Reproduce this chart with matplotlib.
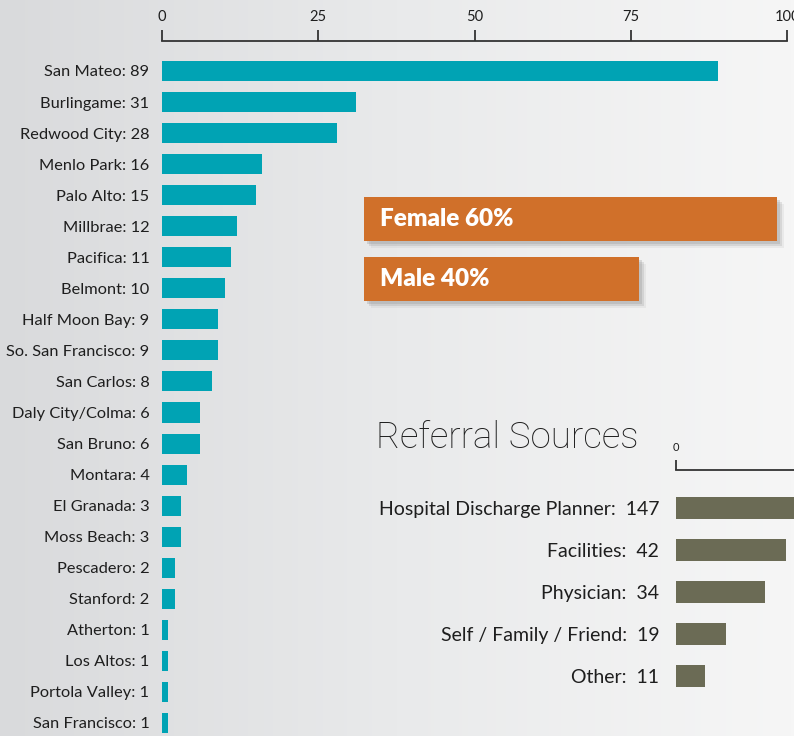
import numpy as np
import matplotlib
matplotlib.use("Agg")
import matplotlib.pyplot as plt
import matplotlib.patheffects as pe

# city counts
cities = ['San Mateo', 'Burlingame', 'Redwood City', 'Menlo Park', 'Palo Alto',
          'Millbrae', 'Pacifica', 'Belmont', 'Half Moon Bay', 'So. San Francisco',
          'San Carlos', 'Daly City/Colma', 'San Bruno', 'Montara', 'El Granada',
          'Moss Beach', 'Pescadero', 'Stanford', 'Atherton', 'Los Altos',
          'Portola Valley', 'San Francisco']
city_counts = [89, 31, 28, 16, 15, 12, 11, 10, 9, 9, 8, 6, 6, 4, 3, 3, 2, 2, 1, 1, 1, 1]
city_ticks = [0, 25, 50, 75, 100]

# gender split
genders = ['Female', 'Male']
gender_pct = [60, 40]

# referral sources
sources = ['Hospital Discharge Planner', 'Facilities', 'Physician',
           'Self / Family / Friend', 'Other']
source_counts = [147, 42, 34, 19, 11]

teal = '#00a3b4'
orange = '#d0702a'
olive = '#6b6b55'
txt = '#1e1e1e'

plt.rcParams['font.family'] = ['Lato', 'DejaVu Sans']

W, H = 794, 736
fig = plt.figure(figsize=(W / 100, H / 100), dpi=100)

# background gradient
bg = fig.add_axes([0, 0, 1, 1])
grad = np.linspace(0, 1, 256)[None, :]
cmap = matplotlib.colors.LinearSegmentedColormap.from_list('bg', ['#d9dadc', '#e9eaeb', '#f6f6f6'])
bg.imshow(grad, aspect='auto', cmap=cmap, extent=[0, 1, 0, 1])
bg.axis('off')

# --- cities ---
ax = fig.add_axes([162 / W, 0, 625 / W, (H - 41) / H])
ax.set_facecolor('none')
y = np.arange(len(cities))
ax.barh(y, city_counts, height=0.645, color=teal)
ax.set_xlim(0, 100)
ax.set_ylim(21.42, -0.966)
ax.xaxis.tick_top()
ax.set_xticks(city_ticks)
ax.tick_params(axis='x', direction='out', length=8, width=1.3, color='#333333',
               labelsize=10.5, labelcolor=txt, pad=4)
ax.set_yticks(y, ['{}: {}'.format(c, n) for c, n in zip(cities, city_counts)])
ax.tick_params(axis='y', length=0, pad=9, labelsize=11.8, labelcolor=txt)
for s in ['left', 'right', 'bottom']:
    ax.spines[s].set_visible(False)
ax.spines['top'].set_linewidth(1.3)
ax.spines['top'].set_color('#333333')

# --- gender ---
gx = fig.add_axes([364 / W, 1 - 310 / H, 430 / W, 120 / H])
gx.set_facecolor('none')
shadow = [pe.SimplePatchShadow(offset=(2, -2), shadow_rgbFace='#888888', alpha=0.25),
          pe.SimplePatchShadow(offset=(3.5, -3.5), shadow_rgbFace='#888888', alpha=0.2),
          pe.SimplePatchShadow(offset=(5, -5), shadow_rgbFace='#999999', alpha=0.12),
          pe.Normal()]
gb = gx.barh([0, 1], gender_pct, height=0.733, color=orange)
for b in gb:
    b.set_path_effects(shadow)
for i, (g, p) in enumerate(zip(genders, gender_pct)):
    gx.text(2.3, i, '{} {}%'.format(g, p), color='white', fontsize=17.5,
            fontweight='heavy', va='center', ha='left')
gx.set_xlim(0, 430 / 6.883)
gx.set_ylim(1.517, -0.483)
gx.axis('off')

# --- referral sources ---
fig.text(376 / W, 1 - 438 / H, 'Referral Sources', fontsize=26.5, family='Roboto',
         fontweight='light', color=txt, va='center', ha='left')
rx = fig.add_axes([676 / W, 0, 118 / W, (H - 470) / H])
rx.set_facecolor('none')
ry = np.arange(len(sources))
rx.barh(ry, source_counts, height=0.52, color=olive)
rx.set_xlim(0, 118 / 2.63)
rx.set_ylim(5.43, -0.905)
rx.xaxis.tick_top()
rx.set_xticks([0])
rx.tick_params(axis='x', direction='out', length=7, width=1.3, color='#333333',
               labelsize=8, labelcolor=txt, pad=5)
rx.set_yticks(ry, ['{}:  {}'.format(s, n) for s, n in zip(sources, source_counts)])
rx.tick_params(axis='y', length=0, pad=12, labelsize=14, labelcolor=txt)
for s in ['left', 'right', 'bottom']:
    rx.spines[s].set_visible(False)
rx.spines['top'].set_linewidth(1.3)
rx.spines['top'].set_color('#333333')

fig.savefig('out.png', dpi=100)
